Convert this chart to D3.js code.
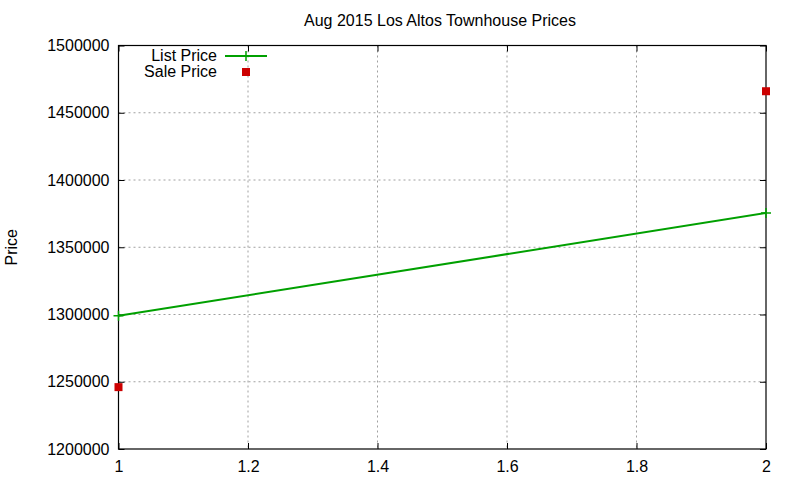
<!DOCTYPE html>
<html>
<head>
<meta charset="utf-8">
<script src="https://cdn.jsdelivr.net/npm/d3@7"></script>
<style>
  body { margin: 0; background: #fff; }
  svg text { font-family: "Liberation Sans", Arial, sans-serif; fill: #000; }
</style>
</head>
<body>
<div class="chart"></div>
<script>
const xValues = [1, 2];
const listPrice = [1299000, 1375500];
const salePrice = [1246000, 1466000];
const xTicks = [1, 1.2, 1.4, 1.6, 1.8, 2];
const yTicks = [1200000, 1250000, 1300000, 1350000, 1400000, 1450000, 1500000];

const svgWidth = 800;
const svgHeight = 480;
const margin = { top: 45.5, right: 34, bottom: 31, left: 118.5 };
const width = svgWidth - margin.left - margin.right;
const height = svgHeight - margin.top - margin.bottom;

const xScale = d3.scaleLinear().domain([1, 2]).range([0, width]);
const yScale = d3.scaleLinear().domain([1200000, 1500000]).range([height, 0]);

const root = d3.select('.chart').append('svg')
  .attr('width', svgWidth)
  .attr('height', svgHeight);

root.append('text')
  .attr('x', 440)
  .attr('y', 26)
  .attr('text-anchor', 'middle')
  .style('font-size', '16px')
  .text('Aug 2015 Los Altos Townhouse Prices');

root.append('text')
  .attr('transform', `translate(17, ${margin.top + height / 2}) rotate(-90)`)
  .attr('text-anchor', 'middle')
  .style('font-size', '16px')
  .text('Price');

const svg = root.append('g')
  .attr('transform', `translate(${margin.left}, ${margin.top})`);

// grid
svg.append('g').selectAll('line')
  .data(xTicks.slice(1, -1))
  .enter().append('line')
  .attr('x1', (d) => xScale(d)).attr('x2', (d) => xScale(d))
  .attr('y1', 0).attr('y2', height)
  .attr('stroke', '#a0a0a0').attr('stroke-dasharray', '2,3');

svg.append('g').selectAll('line')
  .data(yTicks.slice(1, -1))
  .enter().append('line')
  .attr('x1', 0).attr('x2', width)
  .attr('y1', (d) => yScale(d)).attr('y2', (d) => yScale(d))
  .attr('stroke', '#a0a0a0').attr('stroke-dasharray', '2,3');

// axes with inward ticks
const tickLen = 6;
const fmtY = d3.format('d');
svg.append('g')
  .attr('transform', `translate(0, ${height})`)
  .call(d3.axisBottom(xScale).tickValues(xTicks).tickSize(-tickLen).tickPadding(tickLen + 6).tickFormat(d3.format('')));
svg.append('g')
  .call(d3.axisLeft(yScale).tickValues(yTicks).tickSize(-tickLen).tickPadding(tickLen + 3).tickFormat(fmtY));
svg.append('g')
  .call(d3.axisTop(xScale).tickValues(xTicks).tickSize(-tickLen).tickFormat(''));
svg.append('g')
  .attr('transform', `translate(${width}, 0)`)
  .call(d3.axisRight(yScale).tickValues(yTicks).tickSize(-tickLen).tickFormat(''));

svg.selectAll('.domain').remove();
svg.selectAll('.tick line').attr('stroke', '#000');
svg.selectAll('.tick text').style('font-size', '16px').attr('fill', '#000')
  .style('font-family', '"Liberation Sans", Arial, sans-serif');

svg.append('rect')
  .attr('x', 0).attr('y', 0)
  .attr('width', width).attr('height', height)
  .attr('fill', 'none').attr('stroke', '#000').attr('stroke-width', 1.2);

// list price line
const listData = xValues.map((x, i) => ({ x, y: listPrice[i] }));
const line = d3.line()
  .x((d) => xScale(d.x))
  .y((d) => yScale(d.y));

svg.append('path')
  .datum(listData)
  .attr('d', line)
  .attr('fill', 'none')
  .attr('stroke', '#00a000')
  .attr('stroke-width', 2);

svg.selectAll('.lp')
  .data(listData)
  .enter().append('path')
  .attr('transform', (d) => `translate(${xScale(d.x)}, ${yScale(d.y)})`)
  .attr('d', 'M-5,0H5M0,-5V5')
  .attr('stroke', '#00a000')
  .attr('stroke-width', 1.5);

// sale price points
const saleData = xValues.map((x, i) => ({ x, y: salePrice[i] }));
svg.selectAll('.sp')
  .data(saleData)
  .enter().append('rect')
  .attr('x', (d) => xScale(d.x) - 4)
  .attr('y', (d) => yScale(d.y) - 4)
  .attr('width', 8).attr('height', 8)
  .attr('fill', '#cc0000');

// legend
const legend = root.append('g');
legend.append('text')
  .attr('x', 217).attr('y', 61)
  .attr('text-anchor', 'end')
  .style('font-size', '16px')
  .text('List Price');
legend.append('line')
  .attr('x1', 225).attr('x2', 267)
  .attr('y1', 56).attr('y2', 56)
  .attr('stroke', '#00a000').attr('stroke-width', 2);
legend.append('path')
  .attr('transform', 'translate(246, 56)')
  .attr('d', 'M-5,0H5M0,-5V5')
  .attr('stroke', '#00a000').attr('stroke-width', 1.5);
legend.append('text')
  .attr('x', 217).attr('y', 77)
  .attr('text-anchor', 'end')
  .style('font-size', '16px')
  .text('Sale Price');
legend.append('rect')
  .attr('x', 242).attr('y', 68)
  .attr('width', 8).attr('height', 8)
  .attr('fill', '#cc0000');
</script>
</body>
</html>
